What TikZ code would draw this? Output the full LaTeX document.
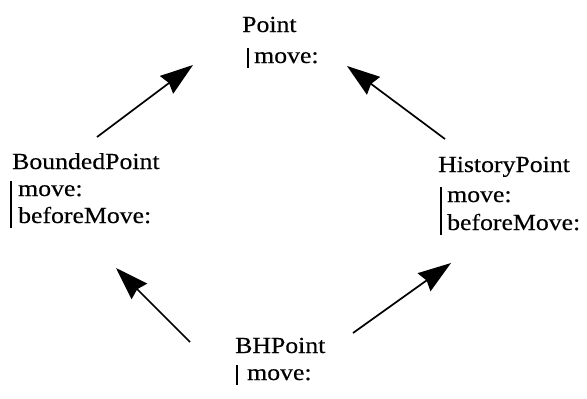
\documentclass[tikz,border=0pt]{standalone}
\usepackage{fontspec}
\setmainfont{Liberation Serif}[FakeStretch=1.12,FakeBold=0.4]
\usetikzlibrary{arrows.meta}
\begin{document}
\begin{tikzpicture}[x=1pt,y=-1pt,
  txt/.style={inner sep=0pt, anchor=base west, font=\fontsize{23}{27}\selectfont, text height=15pt, text depth=5pt},
  bar/.style={line width=1.4pt},
  inh/.style={line width=1.7pt, -{Stealth[length=33pt,width=22pt,inset=3pt]}}]
\useasboundingbox (0,0) rectangle (587,399);
% Point
\node[txt] (p) at (242,32) {Point};
\node[txt] (pm) at (254,63) {move:};
\draw[bar] ([xshift=-6pt]pm.north west) -- ([xshift=-6pt]pm.south west);
% BoundedPoint
\node[txt] (b) at (12,169) {BoundedPoint};
\node[txt] (bm1) at (18,196) {move:};
\node[txt] (bm2) at (18,223) {beforeMove:};
\draw[bar] ([xshift=-7pt]bm1.north west) -- ([xshift=-7pt]bm2.south west);
% HistoryPoint
\node[txt] (h) at (438,172) {HistoryPoint};
\node[txt] (hm1) at (447,202) {move:};
\node[txt] (hm2) at (447,230) {beforeMove:};
\draw[bar] ([xshift=-6pt]hm1.north west) -- ([xshift=-6pt]hm2.south west);
% BHPoint
\node[txt] (bh) at (235,353) {BHPoint};
\node[txt] (bhm) at (247,380) {move:};
\draw[bar] ([xshift=-10pt]bhm.north west) -- ([xshift=-10pt]bhm.south west);
% arrow end points
\coordinate (b1) at (97,137);  \coordinate (p1) at (193,65);
\coordinate (h1) at (445,139); \coordinate (p2) at (347,66);
\coordinate (bh1) at (190,342); \coordinate (b2) at (116,268);
\coordinate (bh2) at (353,333); \coordinate (h2) at (451,263);
\draw[inh] (b1) -- (p1);
\draw[inh] (h1) -- (p2);
\draw[inh] (bh1) -- (b2);
\draw[inh] (bh2) -- (h2);
\end{tikzpicture}
\end{document}
